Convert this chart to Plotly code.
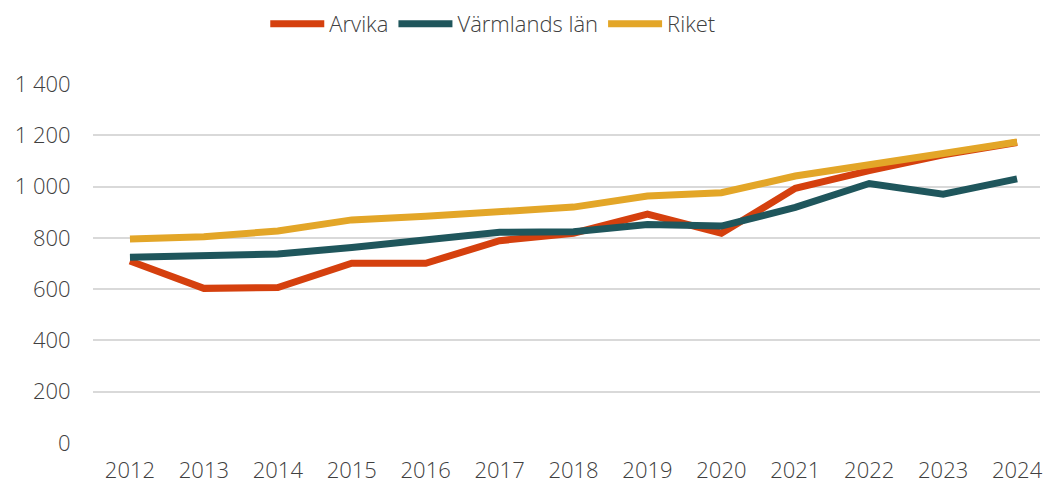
import plotly.graph_objects as go

years = list(range(2012, 2025))
arvika = [710, 603, 606, 701, 701, 789, 818, 893, 818, 993, 1062, 1124, 1172]
varmland = [724, 733, 737, 762, 789, 822, 824, 852, 846, 919, 1012, 970, 1030]
riket = [796, 804, 827, 870, 884, 899, 920, 963, 976, 1041, 1083, 1129, 1174]

series = [("Arvika", arvika, "#d5400e"), ("Värmlands län", varmland, "#1f565c"), ("Riket", riket, "#e3a628")]

fig = go.Figure()
for name, vals, col in series:
    fig.add_trace(go.Scatter(x=years, y=vals, name=name, mode="lines",
                             line=dict(color=col, width=7)))

fig.update_layout(
    width=1044, height=484,
    margin=dict(l=93, r=4, t=84, b=41, autoexpand=False),
    paper_bgcolor="white", plot_bgcolor="white",
    font=dict(family="Open Sans, sans-serif", size=22, color="#404040", weight=300),
    separators=", ",
    showlegend=True,
    legend=dict(orientation="h", x=0.472, xanchor="center", y=1 - 24 / 484, yanchor="middle",
                yref="container", xref="container", itemwidth=54,
                font=dict(size=22, color="#404040", weight=300), traceorder="normal"),
    xaxis=dict(range=[2011.5, 2024.31], tickvals=years, ticktext=[str(y) for y in years],
               showgrid=False, zeroline=False, showline=False, ticks="outside",
               ticklen=8, tickcolor="rgba(0,0,0,0)", automargin=False),
    yaxis=dict(range=[0, 1400], tickvals=[0, 200, 400, 600, 800, 1000, 1200, 1400],
               tickformat=",d", showgrid=True, gridcolor="#d9d9d9", gridwidth=2,
               zeroline=False, showline=False, ticks="outside", ticklen=17,
               tickcolor="rgba(0,0,0,0)", automargin=False),
)

fig.write_html("out.html", config={"displayModeBar": False},
               post_script="document.body.style.margin='0';")
